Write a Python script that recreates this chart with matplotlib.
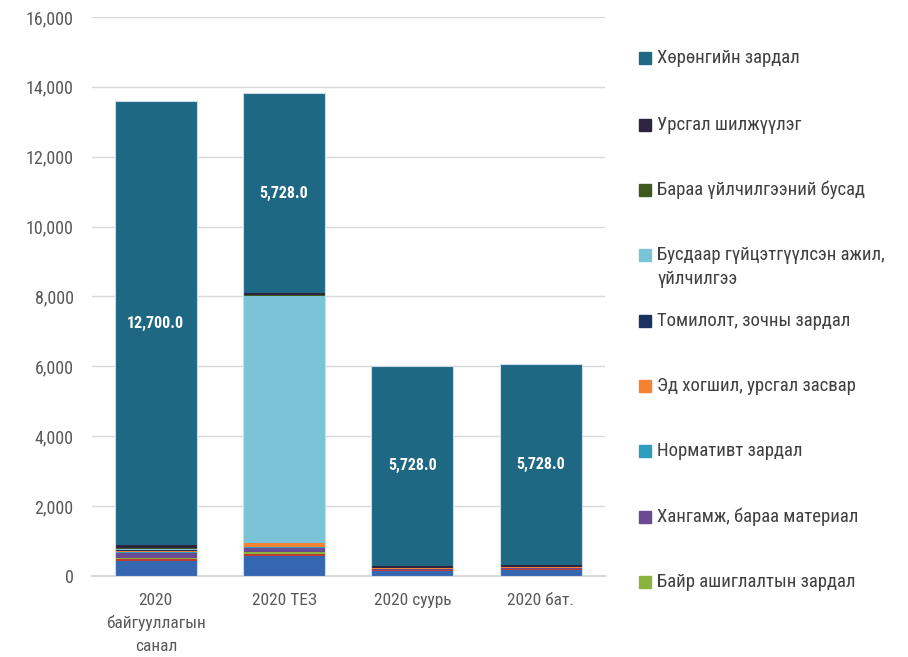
import matplotlib
matplotlib.use("Agg")
import matplotlib.pyplot as plt
from matplotlib import font_manager
from matplotlib.patches import Rectangle
from matplotlib.ticker import FuncFormatter
import numpy as np

# pick a condensed face if there is one
names = {f.name for f in font_manager.fontManager.ttflist}
if "Roboto Condensed" in names:
    FONT = "Roboto Condensed"
elif "Liberation Sans Narrow" in names:
    FONT = "Liberation Sans Narrow"
else:
    FONT = "Roboto"
plt.rcParams['font.family'] = [FONT, 'DejaVu Sans']

categories = ["2020\nбайгууллагын\nсанал", "2020 ТЕЗ", "2020 суурь", "2020 бат."]

# stacked from bottom to top
salary = [440, 560, 150, 165]
ndsh = [40, 75, 30, 40]
bair = [30, 55, 0, 0]
khangamj = [135, 115, 25, 10]
normativ = [40, 30, 0, 0]
ed_khogshil = [35, 95, 10, 30]
tomilolt = [30, 15, 5, 5]
busdaar = [20, 7080, 0, 0]
baraa_busad = [40, 10, 5, 5]
ursgal = [70, 50, 70, 70]
khurungu = [12700, 5728, 5728, 5728]

series = [
    ("Цалин хөлс", salary, "#3566B0"),
    ("НДШ", ndsh, "#BE3B33"),
    ("Байр ашиглалтын зардал", bair, "#8BB33E"),
    ("Хангамж, бараа материал", khangamj, "#6A4A93"),
    ("Нормативт зардал", normativ, "#2E9DBF"),
    ("Эд хогшил, урсгал засвар", ed_khogshil, "#F58232"),
    ("Томилолт, зочны зардал", tomilolt, "#1B3260"),
    ("Бусдаар гүйцэтгүүлсэн ажил,\nүйлчилгээ", busdaar, "#7BC3D6"),
    ("Бараа үйлчилгээний бусад", baraa_busad, "#3F5A1E"),
    ("Урсгал шилжүүлэг", ursgal, "#2E2442"),
    ("Хөрөнгийн зардал", khurungu, "#1F6883"),
]
legend_names = ["Хөрөнгийн зардал", "Урсгал шилжүүлэг", "Бараа үйлчилгээний бусад",
                "Бусдаар гүйцэтгүүлсэн ажил,\nүйлчилгээ", "Томилолт, зочны зардал",
                "Эд хогшил, урсгал засвар", "Нормативт зардал",
                "Хангамж, бараа материал", "Байр ашиглалтын зардал"]

fig = plt.figure(figsize=(9.08, 6.57), dpi=100)
ax = fig.add_axes([0.101, 0.1233, 0.565, 0.851])

x = np.arange(len(categories))
bottom = np.zeros(len(categories))
colors = {}
last = None
for name, vals, col in series:
    last = ax.bar(x, vals, 0.64, bottom=bottom, color=col, linewidth=0, zorder=3)
    bottom += np.array(vals, dtype=float)
    colors[name] = col
# thin pale outline round each whole bar
ax.bar(x, bottom, 0.64, fill=False, edgecolor="#C9DCE8", linewidth=0.8, zorder=4)

ax.bar_label(last, labels=[f"{v:,.1f}" for v in khurungu], label_type="center",
             color="white", fontsize=11.5, fontweight="bold")

ax.set_xlim(-0.5, 3.5)
ax.set_ylim(0, 16000)
ax.set_yticks(np.arange(0, 16001, 2000))
ax.yaxis.set_major_formatter(FuncFormatter(lambda v, p: f"{v:,.0f}"))
ax.set_xticks(x)
ax.set_xticklabels(categories, linespacing=1.6, va="top")
ax.tick_params(axis="y", length=0, pad=13, labelsize=13, labelcolor="#595959")
ax.tick_params(axis="x", length=0, pad=12, labelsize=12.5, labelcolor="#595959")
ax.grid(axis="y", color="#D9D9D9", linewidth=1, zorder=0)
for s in ["top", "right", "left"]:
    ax.spines[s].set_visible(False)
ax.spines["bottom"].set_color("#D9D9D9")
ax.spines["bottom"].set_linewidth(1.5)

# legend on the right, one row every ~65 px
W, H = 908, 657
ys = [58, 125, 190, 255, 321, 386, 451, 517, 582]
for name, yp in zip(legend_names, ys):
    fig.add_artist(Rectangle((639 / W, 1 - (yp + 6) / H), 12 / W, 12 / H,
                             transform=fig.transFigure, color=colors[name]))
    fig.text(657 / W, 1 - yp / H + (9 / H if "\n" in name else 0), name,
             fontsize=13.5, color="#404040",
             va="center" if "\n" not in name else "top", linespacing=1.45)

fig.savefig("out.png", dpi=100)
